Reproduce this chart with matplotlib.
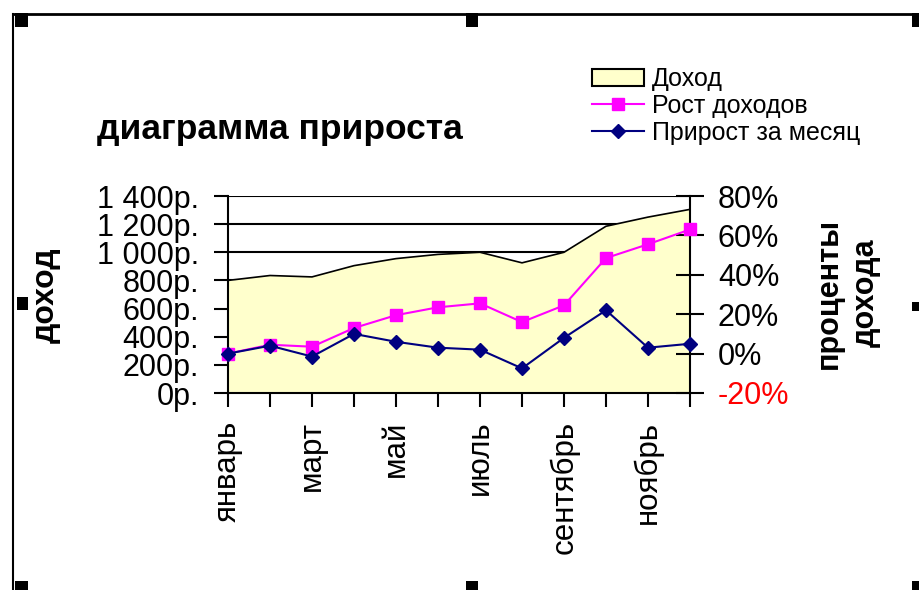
import matplotlib.pyplot as plt
from matplotlib.patches import Rectangle
from matplotlib.lines import Line2D
from matplotlib.ticker import FuncFormatter

plt.rcParams['font.family'] = ['Liberation Sans', 'DejaVu Sans']

# данные
months = ['январь', 'февраль', 'март', 'апрель', 'май', 'июнь',
          'июль', 'август', 'сентябрь', 'октябрь', 'ноябрь', 'декабрь']
income = [800, 835, 825, 905, 955, 985, 1000, 925, 1000, 1185, 1250, 1305]
growth_total = [0, 4.5, 3.5, 13, 19.5, 23.5, 25.5, 16, 24.5, 48.5, 55.5, 63]
growth_month = [0, 4, -1.5, 10, 6, 3, 2, -7.5, 8, 22, 3, 5]

income_ticks = [0, 200, 400, 600, 800, 1000, 1200, 1400]
pct_ticks = [-20, 0, 20, 40, 60, 80]
pct_labels = ['-20%', '0%', '20%', '40%', '60%', '80%']

W, H = 920, 590
fig = plt.figure(figsize=(W / 100, H / 100), dpi=100)

ax = fig.add_axes([228 / W, 1 - 393 / H, 462 / W, 197 / H])
ax2 = ax.twinx()

x = list(range(len(months)))

# доход (область)
ax.set_axisbelow(True)
ax.yaxis.grid(True, color='black', lw=1.5)
ax.fill_between(x, income, color='#FFFFCC', zorder=2)
ax.plot(x, income, color='black', lw=1.2, zorder=3)
ax.set_xlim(0, len(months) - 1)
ax.set_ylim(0, 1400)
ax.set_yticks(income_ticks)
ax.yaxis.set_major_formatter(FuncFormatter(lambda v, p: f'{int(v):,}р.'.replace(',', ' ')))
ax.set_xticks(x)
ax.set_xticklabels([m if i % 2 == 0 else '' for i, m in enumerate(months)], rotation=90)
ax.tick_params(axis='y', direction='out', length=10, width=1.5, labelsize=22, pad=11)
ax.tick_params(axis='x', direction='out', length=10, width=1.5, labelsize=22.5, pad=10)
for s in ['top', 'right']:
    ax.spines[s].set_visible(False)
for s in ['left', 'bottom']:
    ax.spines[s].set_linewidth(1.5)

# проценты
ax2.plot(x, growth_total, color='#FF00FF', marker='s', ms=9, lw=1.5, clip_on=False, zorder=4)
ax2.plot(x, growth_month, color='#000080', marker='D', ms=7.5, lw=1.5, clip_on=False, zorder=5)
ax2.set_ylim(-20, 80)
ax2.set_yticks(pct_ticks, labels=pct_labels)
ax2.get_yticklabels()[0].set_color('red')
ax2.tick_params(axis='y', direction='inout', length=20, width=1.5, labelsize=22, pad=10)
for s in ['top', 'left', 'bottom']:
    ax2.spines[s].set_visible(False)
ax2.spines['right'].set_linewidth(1.5)

# подписи
fig.text(97 / W, 1 - 129 / H, 'диаграмма прироста', fontsize=25.5, fontweight='bold',
         ha='left', va='center')
fig.text(46 / W, 1 - 295 / H, 'доход', fontsize=23, fontweight='bold', rotation=90,
         ha='center', va='center')
fig.text(847 / W, 1 - 293 / H, 'проценты\nдохода', fontsize=22, fontweight='bold',
         rotation=90, ha='center', va='center', multialignment='center', linespacing=1.3)

# легенда
handles = [Rectangle((0, 0), 1, 1, facecolor='#FFFFCC', edgecolor='black', lw=1.5),
           Line2D([], [], color='#FF00FF', marker='s', ms=9, lw=1.5),
           Line2D([], [], color='#000080', marker='D', ms=7.5, lw=1.5)]
fig.legend(handles, ['Доход', 'Рост доходов', 'Прирост за месяц'], loc='upper left',
           bbox_to_anchor=(592 / W, 1 - 67 / H), frameon=False, fontsize=18,
           handlelength=2.1, handletextpad=0.3, labelspacing=0.12,
           borderpad=0, borderaxespad=0)

# рамка выделения
fig.add_artist(Line2D([14 / W, 918 / W], [1 - 14 / H, 1 - 14 / H], color='black', lw=2,
                      transform=fig.transFigure))
fig.add_artist(Line2D([13 / W, 13 / W], [1 - 14 / H, 0], color='black', lw=1.5,
                      transform=fig.transFigure))
for hx, hy, hw, hh in [(15, 13, 13, 14), (466, 13, 12, 14), (912, 13, 10, 14),
                       (17, 297, 11, 13), (912, 302, 10, 9),
                       (15, 581, 13, 10), (466, 581, 12, 10), (912, 581, 10, 10)]:
    fig.add_artist(Rectangle((hx / W, 1 - (hy + hh) / H), hw / W, hh / H,
                             facecolor='black', edgecolor='none',
                             transform=fig.transFigure))

fig.savefig('out.png', dpi=100)
